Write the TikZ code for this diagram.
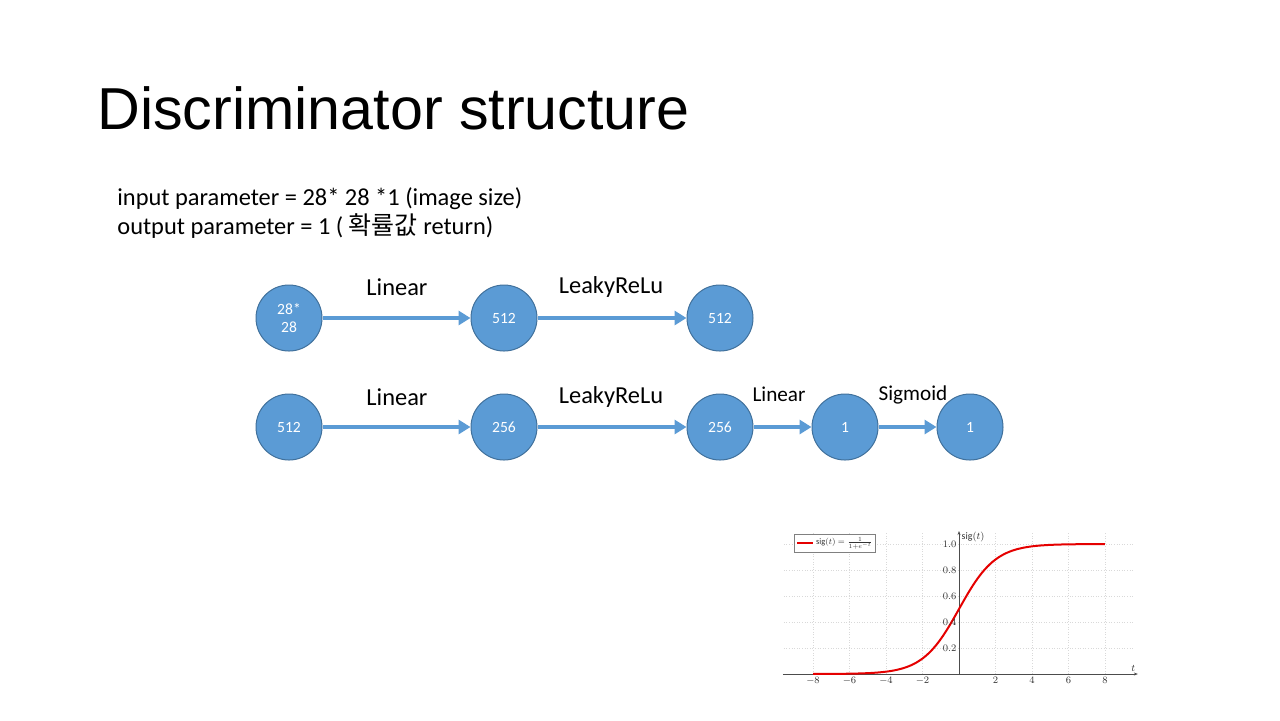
\documentclass[tikz,border=0pt]{standalone}
\usepackage{fontspec}
\setmainfont{Carlito}
\newfontfamily\titlefont{Liberation Sans}
\newfontfamily\krfont{Noto Sans CJK KR}
\usetikzlibrary{arrows.meta}
\definecolor{nodeblue}{HTML}{5B9BD5}
\definecolor{nodeedge}{HTML}{41719C}
\definecolor{gridgray}{HTML}{D9D9D9}
\begin{document}
\begin{tikzpicture}[x=0.5pt,y=-0.5pt,
  unit/.style={circle, fill=nodeblue, draw=nodeedge, line width=0.5pt,
    minimum size=33pt, inner sep=0pt, text=white,
    font=\fontsize{7.8}{9}\selectfont, align=center},
  flow/.style={draw=nodeblue, line width=2pt, -{Triangle[length=6pt,width=7pt]}},
  oplabel/.style={font=\fontsize{12.2}{14}\selectfont, inner sep=0pt},
  smalllabel/.style={font=\fontsize{10.6}{12}\selectfont, inner sep=0pt},
  textline/.style={anchor=base west, inner sep=0pt, font=\fontsize{12.2}{14}\selectfont},
  ticklabel/.style={font=\fontsize{8}{9}\selectfont, scale=0.62, transform shape,
    inner sep=2pt, text=black!80}]
\useasboundingbox (0,0) rectangle (1280,720);
\fill[white] (0,0) rectangle (1280,720);

% title and parameter lines
\node[anchor=base west, inner sep=0pt, font=\titlefont\fontsize{29.6}{32}\selectfont]
  (title) at (97,129) {Discriminator structure};
\node[textline] (inp) at (117,205) {input parameter = 28* 28 *1 (image size)};
\node[textline] (outp) at (117,234) {output parameter = 1 ( {\krfont\fontsize{12.5}{14}\selectfont 확률값} return)};

% first row
\node[unit] (a1) at (289,318) {28*\\28};
\node[unit] (a2) at (504,318) {512};
\node[unit] (a3) at (720,318) {512};
\draw[flow] (a1) -- (a2);
\draw[flow] (a2) -- (a3);
\node[oplabel] (la1) at (397,287) {Linear};
\node[oplabel] (la2) at (611,287) {LeakyReLu};

% second row
\node[unit] (b1) at (289,427) {512};
\node[unit] (b2) at (504,427) {256};
\node[unit] (b3) at (720,427) {256};
\node[unit] (b4) at (845,427) {1};
\node[unit] (b5) at (970,427) {1};
\draw[flow] (b1) -- (b2);
\draw[flow] (b2) -- (b3);
\draw[flow] (b3) -- (b4);
\draw[flow] (b4) -- (b5);
\node[oplabel] (lb1) at (397,397) {Linear};
\node[oplabel] (lb2) at (611,397) {LeakyReLu};
\node[smalllabel] (lb3) at (779,394) {Linear};
\node[smalllabel] (lb4) at (913,395) {Sigmoid};

% sigmoid plot
\begin{scope}[shift={(479.5pt,-337pt)}, x=9.125pt, y=65pt]
  \foreach \t in {-8,-6,...,8}
    \draw[gridgray, densely dotted, line width=0.3pt] (\t,0) -- (\t,1.09);
  \foreach \v in {0.2,0.4,...,1.0}
    \draw[gridgray, densely dotted, line width=0.3pt] (-9.6,\v) -- (9.6,\v);
  \draw[black!70, line width=0.3pt, -{Stealth[length=2pt]}] (-9.65,0) -- (9.8,0);
  \draw[black!70, line width=0.3pt, -{Stealth[length=2pt]}] (0,0) -- (0,1.1);
  \draw[red!90!black, line width=1pt, domain=-8:8, samples=120]
    plot (\x, {1/(1+exp(-\x))});
  \foreach \t in {-8,-6,-4,-2,2,4,6,8}
    \node[ticklabel, anchor=north] at (\t,0) {$\t$};
  \foreach \v in {0.2,0.4,0.6,0.8,1.0}
    \node[ticklabel, anchor=east] at (0,\v) {$\v$};
  \node[ticklabel, anchor=south east] at (9.8,0) {$t$};
  \node[ticklabel, anchor=north west] at (0,1.11) {$\mathrm{sig}(t)$};
  % legend
  \draw[black!50, line width=0.3pt, fill=white] (-9.04,0.94) rectangle (-4.6,1.072);
  \draw[red!90!black, line width=1pt] (-8.85,1.006) -- (-8.0,1.006);
  \node[ticklabel, scale=0.85, anchor=west, inner sep=1pt] (leg) at (-7.9,1.006)
    {$\mathrm{sig}(t)=\frac{1}{1+e^{-t}}$};
\end{scope}
\end{tikzpicture}
\end{document}
